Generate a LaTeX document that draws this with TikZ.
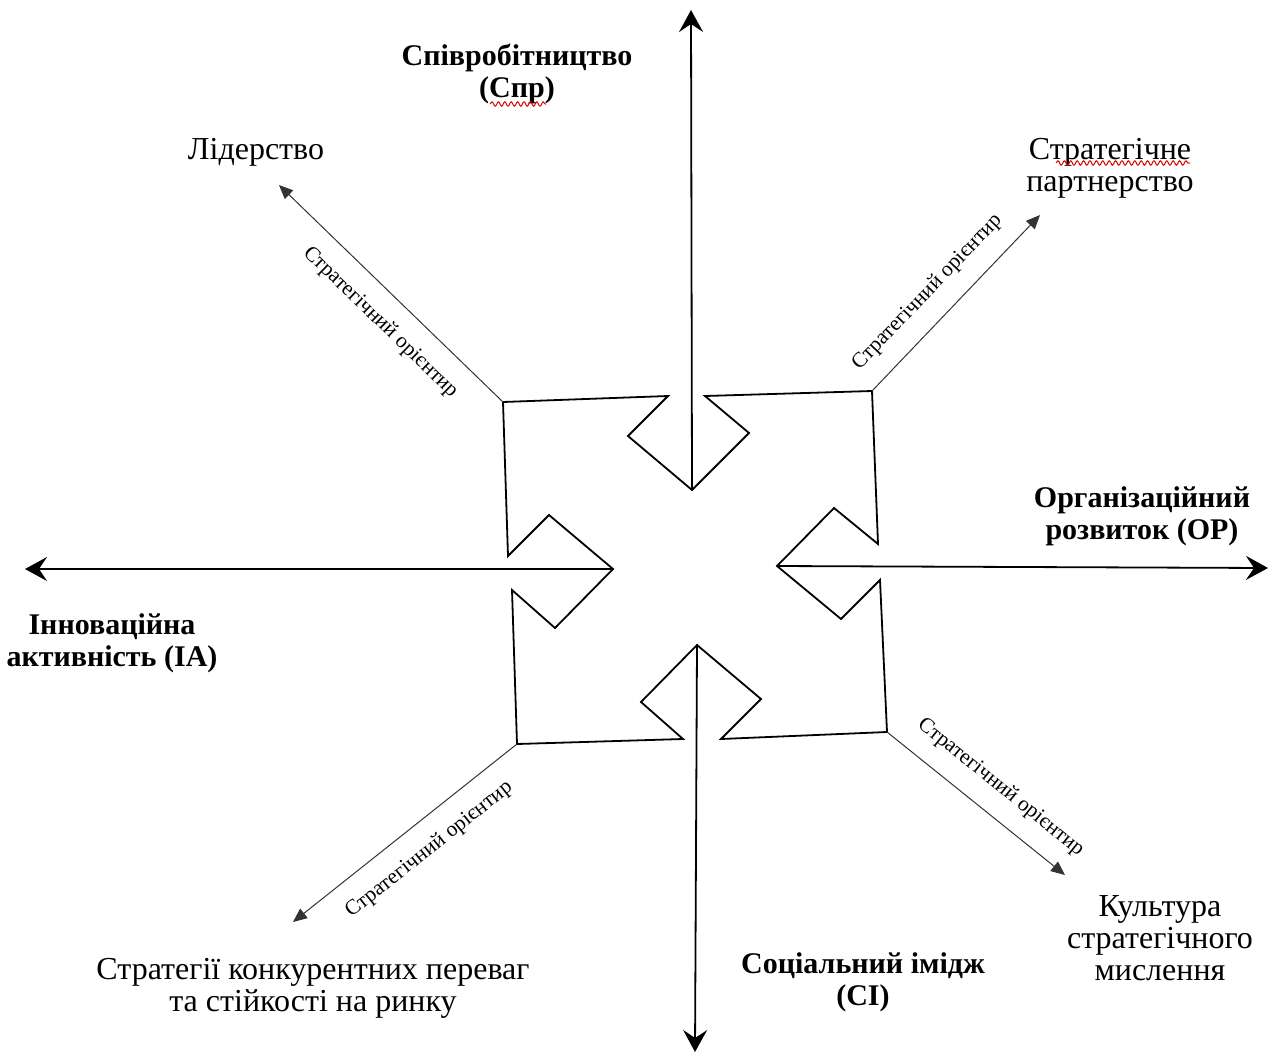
\documentclass[tikz,border=0pt]{standalone}
\usepackage{fontspec}
\setmainfont{Liberation Serif}
\usetikzlibrary{arrows.meta,decorations.pathmorphing}

\begin{document}
\begin{tikzpicture}[x=0.5pt,y=-0.5pt,
  lbl/.style={align=center,inner sep=0pt,font=\fontsize{16}{16}\selectfont},
  blbl/.style={lbl,font=\fontsize{15}{16}\selectfont\bfseries},
  axis/.style={line width=0.9pt,-{Stealth[length=11pt,width=12pt,inset=4pt]}},
  diag/.style={line width=0.5pt,draw=black!80,-{Triangle[length=7pt,width=6pt]}},
  orient/.style={sloped,inner sep=0pt,font=\fontsize{10.7}{11}\selectfont},
  frame/.style={line width=0.9pt,line join=miter},
  spell/.style={draw=red!85!black,line width=0.5pt,decorate,
    decoration={snake,amplitude=1.1pt,segment length=3.2pt}}]

\useasboundingbox (0,0) rectangle (1274,1055);

% outline of the central cross with four inward notches
\coordinate (p1) at (503,402);
\coordinate (p2) at (668,396);
\coordinate (p3) at (628,436);
\coordinate (tipT) at (692,490);
\coordinate (p5) at (749,433);
\coordinate (p6) at (705,396);
\coordinate (p7) at (872,391);
\coordinate (p8) at (878,544);
\coordinate (p9) at (834,508);
\coordinate (tipR) at (777,566);
\coordinate (p11) at (841,619);
\coordinate (p12) at (880,580);
\coordinate (p13) at (887,732);
\coordinate (p14) at (721,739);
\coordinate (p15) at (761,699);
\coordinate (tipB) at (697,645);
\coordinate (p17) at (641,702);
\coordinate (p18) at (683,739);
\coordinate (p19) at (517,744);
\coordinate (p20) at (512,590);
\coordinate (p21) at (555,628);
\coordinate (tipL) at (613,569);
\coordinate (p23) at (549,515);
\coordinate (p24) at (508,556);

\draw[frame] (p1) -- (p2) -- (p3) -- (tipT) -- (p5) -- (p6) -- (p7)
  -- (p8) -- (p9) -- (tipR) -- (p11) -- (p12) -- (p13)
  -- (p14) -- (p15) -- (tipB) -- (p17) -- (p18) -- (p19)
  -- (p20) -- (p21) -- (tipL) -- (p23) -- (p24) -- cycle;

% main axes
\coordinate (endT) at (691,10);
\coordinate (endB) at (695,1052);
\coordinate (endL) at (25,569);
\coordinate (endR) at (1268,568);
\draw[axis] (tipT) -- (endT);
\draw[axis] (tipB) -- (endB);
\draw[axis] (tipL) -- (endL);
\draw[axis] (tipR) -- (endR);

% diagonal strategic directions
\coordinate (dTL) at (279,185);
\coordinate (dTR) at (1040,215);
\coordinate (dBL) at (293,922);
\coordinate (dBR) at (1065,875);
\draw[diag] (p1) -- node[orient,pos=0.46,below=9pt] {Стратегічний орієнтир} (dTL);
\draw[diag] (p7) -- node[orient,pos=0.45,above=9pt] {Стратегічний орієнтир} (dTR);
\draw[diag] (p19) -- node[orient,pos=0.47,below=9pt] {Стратегічний орієнтир} (dBL);
\draw[diag] (p13) -- node[orient,pos=0.54,above=9pt] {Стратегічний орієнтир} (dBR);

% axis captions
\node[blbl] (spr) at (517,74) {Співробітництво\\(Спр)};
\node[blbl] (op) at (1142,516) {Організаційний\\розвиток (ОР)};
\node[blbl] (ia) at (112,643) {Інноваційна\\активність (ІА)};
\node[blbl] (si) at (863,982) {Соціальний імідж\\(СІ)};

% direction captions
\node[lbl] (lid) at (256,152) {Лідерство};
\node[lbl] (part) at (1110,168) {Стратегічне\\партнерство};
\node[lbl] (konk) at (313,988) {Стратегії конкурентних переваг\\та стійкості на ринку};
\node[lbl] (kult) at (1160,938) {Культура\\стратегічного\\мислення};

% spell-check underlines
\coordinate (w1a) at (490,104);
\coordinate (w1b) at (546,104);
\coordinate (w2a) at (1056,163);
\coordinate (w2b) at (1190,163);
\draw[spell] (w1a) -- (w1b);
\draw[spell] (w2a) -- (w2b);

\end{tikzpicture}
\end{document}
